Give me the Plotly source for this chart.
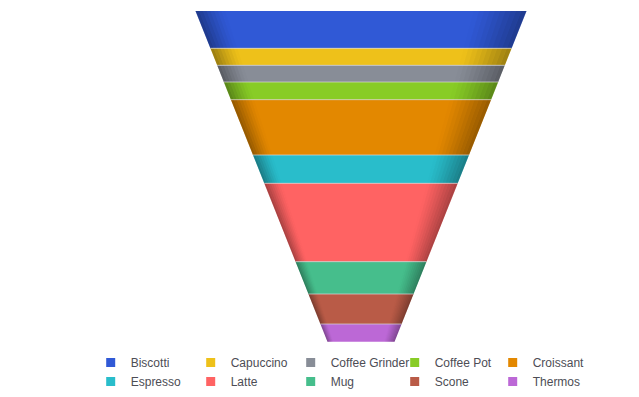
import plotly.graph_objects as go

categories = ["Biscotti", "Capuccino", "Coffee Grinder", "Coffee Pot", "Croissant",
              "Espresso", "Latte", "Mug", "Scone", "Thermos"]
values = [37.3, 17.0, 16.7, 17.7, 55.3, 28.3, 78.4, 32.3, 30.0, 17.7]
colors = ["#3059D6", "#EEC11A", "#888D97", "#88CC26", "#E38800",
          "#29BDCB", "#FF6363", "#46BE8C", "#B95B47", "#BC68D6"]

# page has an 8px body margin, so the figure is drawn 8px smaller and offset
OFF = 8
W, H = 639 - OFF, 397 - OFF
PW = W
total = sum(values)
neck = 0.2024  # bottom half-width relative to top half-width

# layout mapping (figure pixels)
top_px, bot_px = 11.0 - OFF, 341.7 - OFF
cx_px, half_px = 361.0 - OFF, 165.5
ppu_y = (bot_px - top_px) / total
y_range = [total + (H - bot_px) / ppu_y, -top_px / ppu_y]
x_range = [-cx_px / half_px, (PW - cx_px) / half_px]


def hw(c):
    return 1 - (1 - neck) * c / total


def xat(c, u):
    h = hw(c)
    return -h + 2 * h * u


fig = go.Figure()

# shading profile (u position, darkness)
shade = []
nl, nr = 8, 10
for i in range(nl):
    u0, u1 = 0.09 * i / nl, 0.09 * (i + 1) / nl
    d = 0.36 * (1 - (i + 0.5) / nl) ** 1.3
    shade.append((u0, u1, d))
for i in range(nr):
    u0 = 0.84 + 0.16 * i / nr
    u1 = 0.84 + 0.16 * (i + 1) / nr
    d = 0.34 * ((i + 0.5) / nr) ** 1.2
    shade.append((u0, u1, d))

cum = 0.0
for name, v, col in zip(categories, values, colors):
    c0, c1 = cum, cum + v
    xs = [xat(c0, 0), xat(c0, 1), xat(c1, 1), xat(c1, 0), xat(c0, 0)]
    ys = [c0, c0, c1, c1, c0]
    fig.add_trace(go.Scatter(x=xs, y=ys, fill="toself", fillcolor=col, mode="lines",
                             line=dict(width=0, color=col), showlegend=False,
                             hoverinfo="text", text=f"{name}: {v}"))
    for u0, u1, d in shade:
        sx = [xat(c0, u0), xat(c0, u1), xat(c1, u1), xat(c1, u0), xat(c0, u0)]
        fig.add_trace(go.Scatter(x=sx, y=ys, fill="toself",
                                 fillcolor=f"rgba(0,0,0,{d:.3f})", mode="lines",
                                 line=dict(width=0), showlegend=False, hoverinfo="skip"))
    cum = c1

# separators
cum = 0.0
for v in values[:-1]:
    cum += v
    fig.add_trace(go.Scatter(x=[xat(cum, 0), xat(cum, 1)], y=[cum, cum], mode="lines",
                             line=dict(width=1, color="rgba(215,215,215,0.7)"),
                             showlegend=False, hoverinfo="skip"))

# legend entries: 5 columns, each its own legend
NCOL = 5
for i, (name, col) in enumerate(zip(categories, colors)):
    k = i % NCOL
    lg = "legend" if k == 0 else f"legend{k + 1}"
    fig.add_trace(go.Scatter(x=[None], y=[None], mode="markers", name=name,
                             legend=lg, legendgroup=name,
                             marker=dict(symbol="square", size=9, color=col)))

legend_font = dict(family="Liberation Sans, Arial, sans-serif", size=12, color="#4D4D55")
col_shift = [0, 0, 0, 4, 2]
legends = {}
for k in range(NCOL):
    key = "legend" if k == 0 else f"legend{k + 1}"
    left = 90.7 + 100 * k + col_shift[k]
    legends[key] = dict(orientation="v", x=(left - OFF) / PW, xanchor="left",
                        y=1 - (348 - OFF) / H, yanchor="top", traceorder="normal",
                        tracegroupgap=1, font=legend_font, bgcolor="rgba(0,0,0,0)")

fig.update_layout(
    width=W, height=H,
    margin=dict(l=0, r=0, t=0, b=0, autoexpand=False),
    paper_bgcolor="white", plot_bgcolor="white",
    xaxis=dict(range=x_range, visible=False, fixedrange=True),
    yaxis=dict(range=y_range, visible=False, fixedrange=True),
    showlegend=True,
    **legends,
)

fig.write_html("out.html")
